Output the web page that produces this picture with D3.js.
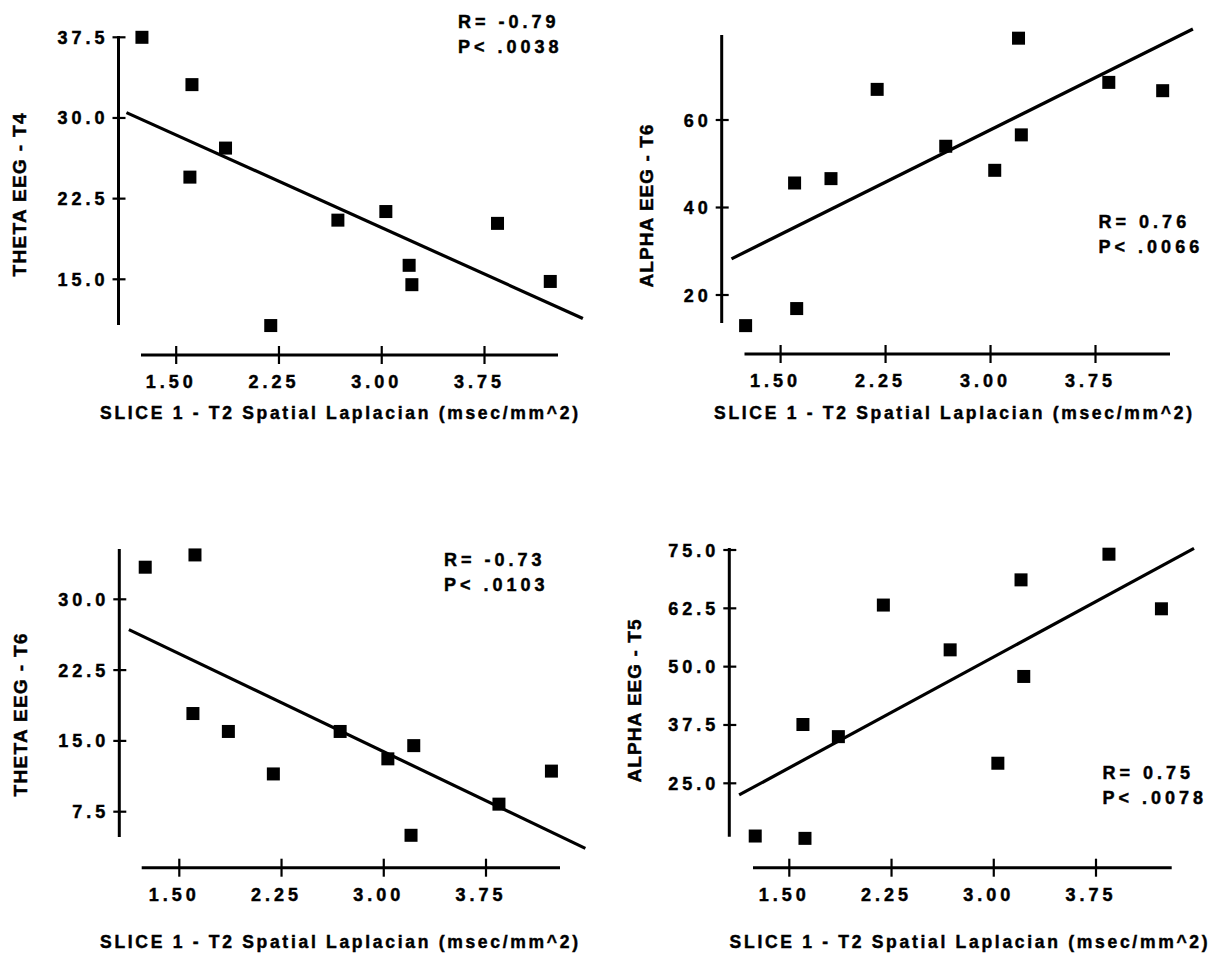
<!DOCTYPE html>
<html>
<head>
<meta charset="utf-8">
<script src="https://cdn.jsdelivr.net/npm/d3@7"></script>
<style>
  body { margin: 0; background: #fff; }
  svg text { font-family: "Liberation Sans", Arial, sans-serif; font-weight: bold; fill: #000;
             stroke: #000; stroke-width: 0.45px; }
</style>
</head>
<body>
<svg width="1215" height="955"></svg>
<script>
// same x for every panel (SLICE 1 - T2 spatial laplacian)
var laplacian = [1.25, 1.60, 1.615, 1.86, 2.19, 2.68, 3.03, 3.20, 3.22, 3.845, 4.23];

var thetaT4 = [37.5, 24.5, 33.1, 27.2, 10.7, 20.5, 21.3, 16.3, 14.5, 20.2, 14.8];
var alphaT6 = [13.0, 45.6, 16.9, 46.6, 67.0, 54.0, 48.5, 78.7, 56.6, 68.6, 66.7];
var thetaT6 = [33.4, 17.9, 34.7, 16.0, 11.5, 16.0, 13.1, 5.0, 14.5, 8.3, 11.8];
var alphaT5 = [13.7, 37.6, 13.2, 35.0, 63.2, 53.6, 29.3, 68.6, 47.9, 74.1, 62.4];

// fitted lines: [x start, x end], [y start, y end]
var fitX = [[1.137, 4.468], [1.149, 4.446], [1.130, 4.479], [1.132, 4.469]];
var fitY = [[30.5, 11.36], [28.26, 80.8], [26.79, 3.62], [22.5, 75.36]];

var xTicks = [1.5, 2.25, 3.0, 3.75];
var xTickLabels = ["1.50", "2.25", "3.00", "3.75"];
var yTicks = [[15, 22.5, 30, 37.5], [20, 40, 60], [7.5, 15, 22.5, 30], [25, 37.5, 50, 62.5, 75]];
var yTickLabels = [["15.0", "22.5", "30.0", "37.5"], ["20", "40", "60"],
                   ["7.5", "15.0", "22.5", "30.0"], ["25.0", "37.5", "50.0", "62.5", "75.0"]];

var yTitles = ["THETA EEG - T4", "ALPHA EEG - T6", "THETA EEG - T6", "ALPHA EEG - T5"];
var xTitle = "SLICE 1 - T2 Spatial Laplacian (msec/mm^2)";
var statR = ["R= -0.79", "R= 0.76", "R= -0.73", "R= 0.75"];
var statP = ["P< .0038", "P< .0066", "P< .0103", "P< .0078"];

var series = [thetaT4, alphaT6, thetaT6, alphaT5];

// layout of the four panels (pixel positions)
var panels = [
  { ax: 118.5, yTop: 36, yBot: 325, yDom: [37.5, 15], yRng: [37.3, 279.3],
    xAxY: 355, xL: 141, xR: 558, xRng: [176.2, 484.5],
    titleX: 100, titleY: 419, yTitleX: 19, yTitleY: 195, statX: 458, statY: 28 },
  { ax: 721.7, yTop: 35, yBot: 323, yDom: [60, 20], yRng: [120, 295],
    xAxY: 354, xL: 744.5, xR: 1170, xRng: [780.6, 1095.5],
    titleX: 714, titleY: 419, yTitleX: 646, yTitleY: 206, statX: 1098.6, statY: 228 },
  { ax: 119.3, yTop: 549, yBot: 837, yDom: [30, 7.5], yRng: [599.3, 811.7],
    xAxY: 867.7, xL: 141.7, xR: 560, xRng: [179.3, 486],
    titleX: 100, titleY: 948, yTitleX: 20, yTitleY: 715, statX: 444, statY: 566 },
  { ax: 729.3, yTop: 548, yBot: 836.7, yDom: [75, 25], yRng: [550, 783.3],
    xAxY: 867.7, xL: 753, xR: 1171.7, xRng: [789.3, 1096],
    titleX: 729.6, titleY: 948, yTitleX: 634, yTitleY: 701, statX: 1102.5, statY: 779 }
];

var svg = d3.select("svg");
svg.append("rect").attr("width", 1215).attr("height", 955).attr("fill", "#fff");

panels.forEach(function(p, i) {
  var x = d3.scaleLinear().domain([1.5, 3.75]).range(p.xRng);
  var y = d3.scaleLinear().domain(p.yDom).range(p.yRng);
  var g = svg.append("g");

  // y axis
  g.append("line")
    .attr("x1", p.ax).attr("x2", p.ax)
    .attr("y1", p.yTop).attr("y2", p.yBot)
    .attr("stroke", "#000").attr("stroke-width", 3);
  g.selectAll(".ytick").data(yTicks[i]).enter().append("line")
    .attr("x1", p.ax - 6).attr("x2", p.ax + 7)
    .attr("y1", function(d) { return y(d); })
    .attr("y2", function(d) { return y(d); })
    .attr("stroke", "#000").attr("stroke-width", 2.2);
  g.selectAll(".ylab").data(yTicks[i]).enter().append("text")
    .attr("x", p.ax - 10)
    .attr("y", function(d) { return y(d) + 6.5; })
    .attr("text-anchor", "end")
    .style("font-size", "18px")
    .style("letter-spacing", "4px")
    .text(function(d, j) { return yTickLabels[i][j]; });

  // x axis
  g.append("line")
    .attr("x1", p.xL).attr("x2", p.xR)
    .attr("y1", p.xAxY).attr("y2", p.xAxY)
    .attr("stroke", "#000").attr("stroke-width", 3);
  g.selectAll(".xtick").data(xTicks).enter().append("line")
    .attr("x1", function(d) { return x(d); })
    .attr("x2", function(d) { return x(d); })
    .attr("y1", p.xAxY - 9).attr("y2", p.xAxY + 9)
    .attr("stroke", "#000").attr("stroke-width", 2.2);
  g.selectAll(".xlab").data(xTicks).enter().append("text")
    .attr("x", function(d) { return x(d) - 5; })
    .attr("y", p.xAxY + 33)
    .attr("text-anchor", "middle")
    .style("font-size", "18px")
    .style("letter-spacing", "4px")
    .text(function(d, j) { return xTickLabels[j]; });

  // fit line
  g.append("line")
    .attr("x1", x(fitX[i][0])).attr("y1", y(fitY[i][0]))
    .attr("x2", x(fitX[i][1])).attr("y2", y(fitY[i][1]))
    .attr("stroke", "#000").attr("stroke-width", 3.2);

  // points
  g.selectAll(".pt").data(series[i]).enter().append("rect")
    .attr("x", function(d, j) { return x(laplacian[j]) - 6.5; })
    .attr("y", function(d) { return y(d) - 6.5; })
    .attr("width", 13).attr("height", 13)
    .attr("fill", "#000");

  // titles
  g.append("text")
    .attr("x", p.titleX).attr("y", p.titleY)
    .attr("textLength", 478).attr("lengthAdjust", "spacing")
    .style("font-size", "17.5px")
    .text(xTitle);
  g.append("text")
    .attr("transform", "translate(" + (p.yTitleX + 7) + "," + p.yTitleY + ") rotate(-90)")
    .attr("text-anchor", "middle")
    .attr("textLength", 163).attr("lengthAdjust", "spacing")
    .style("font-size", "19px")
    .text(yTitles[i]);

  // stats
  g.append("text").attr("x", p.statX).attr("y", p.statY)
    .style("font-size", "18px").style("letter-spacing", "4px")
    .text(statR[i]);
  g.append("text").attr("x", p.statX).attr("y", p.statY + 25)
    .style("font-size", "18px").style("letter-spacing", "4px")
    .text(statP[i]);
});
</script>
</body>
</html>
